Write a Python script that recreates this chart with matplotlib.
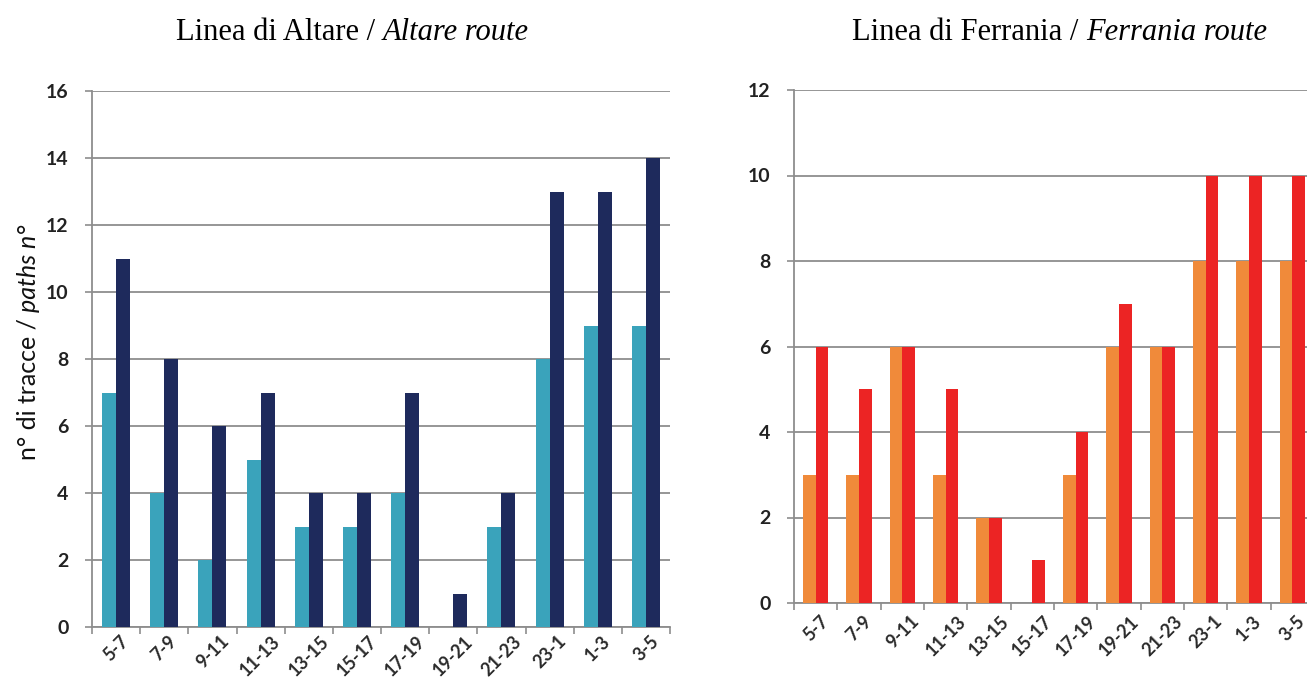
import matplotlib
matplotlib.use("Agg")
import matplotlib.pyplot as plt
import numpy as np

# Time slots (hours) and number of paths per slot
slots = ["5-7", "7-9", "9-11", "11-13", "13-15", "15-17",
         "17-19", "19-21", "21-23", "23-1", "1-3", "3-5"]

altare_a = [7, 4, 2, 5, 3, 3, 4, 0, 3, 8, 9, 9]
altare_b = [11, 8, 6, 7, 4, 4, 7, 1, 4, 13, 13, 14]

ferrania_a = [3, 3, 6, 3, 2, 0, 3, 6, 6, 8, 8, 8]
ferrania_b = [6, 5, 6, 5, 2, 1, 4, 7, 6, 10, 10, 10]

W, H = 1307, 684
fig = plt.figure(figsize=(W / 100, H / 100), dpi=100)
fig.patch.set_facecolor("white")

GRID = "#8d8d8d"
TICKFONT = "Lato"


def px_rect(x0, x1, ytop, ybot):
    return [x0 / W, 1 - ybot / H, (x1 - x0) / W, (ybot - ytop) / H]


def draw(ax, a, b, ca, cb, ymax, xpad):
    x = np.arange(len(slots))
    bw = 0.29
    ax.bar(x - bw / 2, a, width=bw, color=ca, zorder=3, linewidth=0)
    ax.bar(x + bw / 2, b, width=bw, color=cb, zorder=3, linewidth=0)
    ax.set_xlim(-0.5, len(slots) - 0.5)
    ax.set_ylim(0, ymax)
    ax.set_yticks(np.arange(0, ymax + 1, 2))
    ax.yaxis.grid(True, color=GRID, linewidth=1.3, zorder=0)
    ax.set_axisbelow(True)
    for s in ("top", "right"):
        ax.spines[s].set_visible(False)
    for s in ("left", "bottom"):
        ax.spines[s].set_color(GRID)
        ax.spines[s].set_linewidth(1.3)
    ax.set_xticks(x)
    ax.set_xticklabels(slots, rotation=45, ha="center", va="top")
    ax.set_xticks(np.arange(-0.5, len(slots) + 0.5, 1), minor=True)
    ax.tick_params(axis="x", which="major", length=0, pad=xpad,
                   labelsize=13, labelcolor="#2a2a2a")
    ax.tick_params(axis="x", which="minor", length=5, width=1.2, color=GRID)
    ax.tick_params(axis="y", length=5, width=1.2, color=GRID,
                   pad=12, labelsize=14, labelcolor="#222222")
    for lab in ax.get_yticklabels():
        lab.set_fontfamily(TICKFONT)
        lab.set_fontweight("bold")
    for lab in ax.get_xticklabels():
        lab.set_fontfamily(TICKFONT)
        lab.set_fontweight("bold")


ax1 = fig.add_axes(px_rect(92, 670, 91, 627))
draw(ax1, altare_a, altare_b, "#3aa3bb", "#1e2a5c", 16, 4)

ax2 = fig.add_axes(px_rect(794, 1314, 90, 603))
draw(ax2, ferrania_a, ferrania_b, "#f08a3a", "#ec2424", 12, 7)

# Titles (Italian / English)
serif = "Liberation Serif"
for cx, it, en in ((352, "Linea di Altare / ", "Altare route"),
                   (1060, "Linea di Ferrania / ", "Ferrania route")):
    t1 = fig.text(0, 0, it, fontfamily=serif, fontsize=22)
    t2 = fig.text(0, 0, en, fontfamily=serif, fontsize=22, style="italic")
    fig.canvas.draw()
    r = fig.canvas.get_renderer()
    w1 = t1.get_window_extent(r).width
    w2 = t2.get_window_extent(r).width
    x0 = cx - (w1 + w2) / 2
    yb = H - 40
    t1.set_position((x0 / W, yb / H))
    t2.set_position(((x0 + w1) / W, yb / H))

# Y-axis label with italic English part
ys = 312
fig.text(28 / W, 1 - ys / H, "n° di tracce / ", rotation=90,
         ha="center", va="top", fontfamily="Lato", fontsize=18,
         color="#111111")
fig.text(28 / W, 1 - ys / H, "paths n°", rotation=90,
         ha="center", va="bottom", fontfamily="Lato", fontsize=18,
         style="italic", color="#111111")

fig.savefig("out.png", dpi=100, facecolor="white")
